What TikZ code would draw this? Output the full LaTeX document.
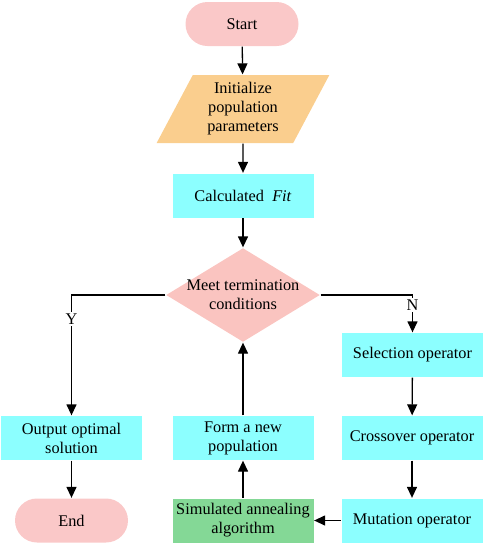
\documentclass[tikz,border=0pt]{standalone}
\usepackage{fontspec}
\setmainfont{Liberation Serif}
\usetikzlibrary{arrows.meta,shapes.geometric}
\definecolor{termpink}{RGB}{250,200,200}
\definecolor{iooran}{RGB}{250,206,142}
\definecolor{proccyan}{RGB}{140,255,255}
\definecolor{sagreen}{RGB}{132,216,150}
\definecolor{decpink}{RGB}{250,196,192}
\tikzset{
  term/.style={fill=termpink,rounded corners=22pt,minimum width=113pt,minimum height=44pt},
  io/.style={trapezium,fill=iooran,trapezium left angle=64,trapezium right angle=116,
    trapezium stretches=true,minimum width=173pt,minimum height=68pt,inner sep=0pt,align=center},
  proc/.style={fill=proccyan,minimum width=141pt,minimum height=44pt,inner sep=0pt,align=center},
  decis/.style={diamond,fill=decpink,minimum width=154pt,minimum height=94pt,inner sep=0pt},
  yn/.style={fill=white,inner sep=1.5pt}
}
\begin{document}
\begin{tikzpicture}[x=1pt,y=1pt,line width=1.3pt,>={Triangle[length=11pt,width=10pt]},
  font=\fontsize{16.3}{19}\selectfont]
            \useasboundingbox (0,0) rectangle (484,-544);
            \node[term] (start) at (242,-24){Start};
            \node[io] (init) at (243,-109){Initialize\\population\\parameters};
            \node[proc] (fit) at (243,-195.5){Calculated\enspace\textit{Fit}};
            \node[decis] (meet) at (243,-295){};
            \node[align=center] at (meet){Meet termination\\conditions};
            \node[proc] (sel) at (412.5,-355){Selection operator};
            \node[proc] (cross) at (412,-438){Crossover operator};
            \node[proc] (mut) at (412,-520.5){Mutation operator};
            \node[proc,fill=sagreen] (sa) at (243,-520.5){Simulated annealing\\algorithm};
            \node[proc] (form) at (243,-438){Form a new\\population};
            \node[proc] (out) at (71.5,-438){Output optimal\\solution};
            \node[term] (end) at (71.5,-520.5){End};
            \draw[->] (start)--(init);
            \draw[->] (init)--(fit);
            \draw[->] (fit)--(meet);
            \draw[->] (meet.west) -| node[yn,pos=0.6]{Y} (out.north);
            \draw[->] (meet.east) -| node[yn,pos=0.63]{N} (sel.north);
            \draw[->] (sel)--(cross);
            \draw[->] (cross)--(mut);
            \draw[->] (mut)--(sa);
            \draw[->] (sa)--(form);
            \draw[->] (form)--(meet.south);
            \draw[->] (out)--(end);
        \end{tikzpicture}
\end{document}
